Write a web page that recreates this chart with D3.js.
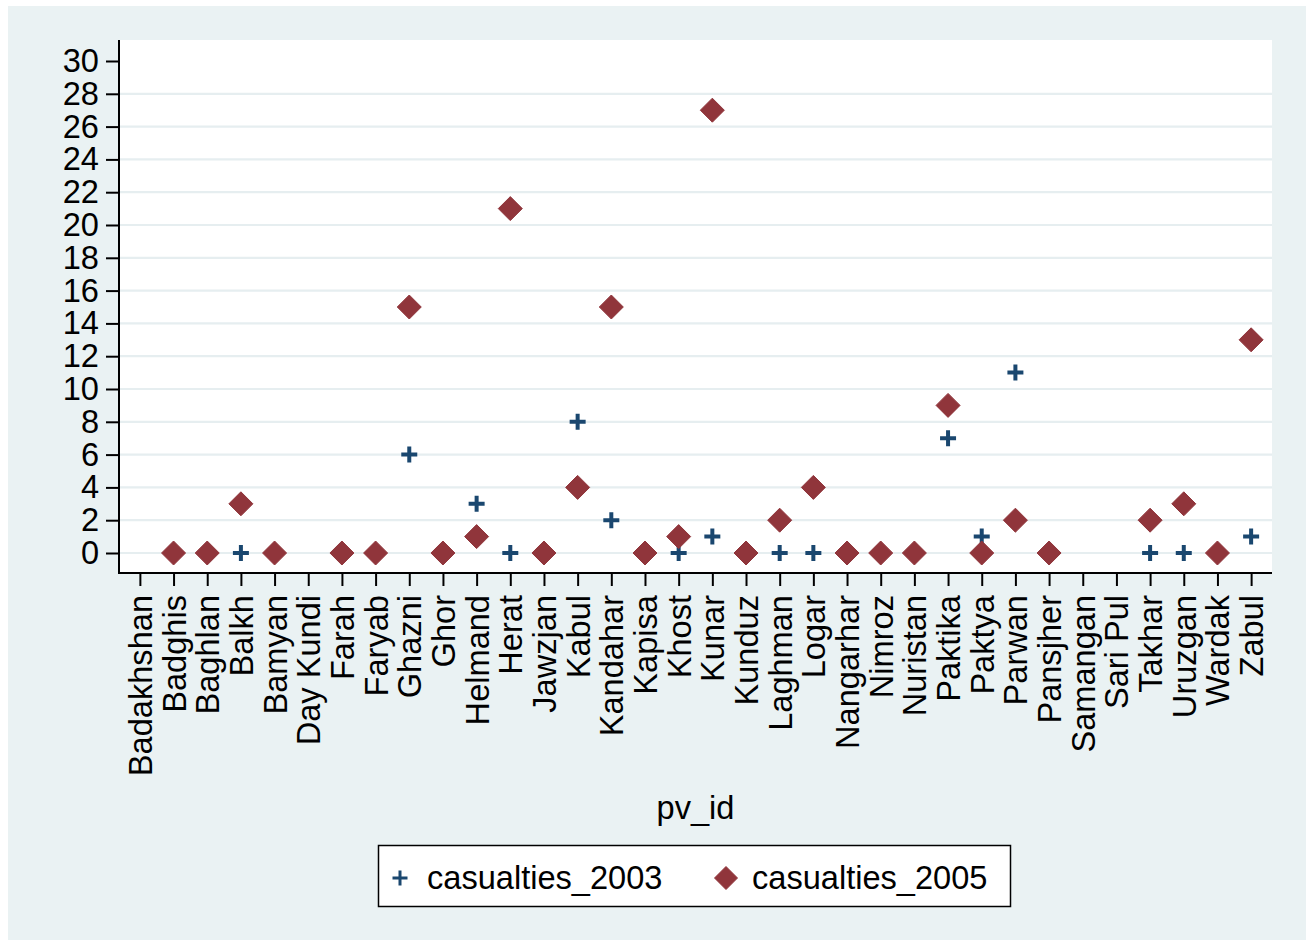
<!DOCTYPE html>
<html><head><meta charset="utf-8">
<script src="https://cdn.jsdelivr.net/npm/d3@7"></script>
<style>html,body{margin:0;padding:0;background:#fff;}svg{display:block;}text{font-family:"Liberation Sans",Arial,sans-serif;}</style>
</head><body>
<svg id="chart" width="1311" height="942"></svg>
<script>
const provinces = ["Badakhshan","Badghis","Baghlan","Balkh","Bamyan","Day Kundi","Farah","Faryab","Ghazni","Ghor","Helmand","Herat","Jawzjan","Kabul","Kandahar","Kapisa","Khost","Kunar","Kunduz","Laghman","Logar","Nangarhar","Nimroz","Nuristan","Paktika","Paktya","Parwan","Pansjher","Samangan","Sari Pul","Takhar","Uruzgan","Wardak","Zabul"];
const casualties2003 = [null,0,0,0,0,null,0,0,6,0,3,0,0,8,2,0,0,1,0,0,0,0,0,0,7,1,11,0,null,null,0,0,0,1];
const casualties2005 = [null,0,0,3,0,null,0,0,15,0,1,21,0,4,15,0,1,27,0,2,4,0,0,0,9,0,2,0,null,null,2,3,0,13];
const yTicks = [0,2,4,6,8,10,12,14,16,18,20,22,24,26,28,30];
const seriesNames = ["casualties_2003","casualties_2005"];

const bg = "#eaf2f3", blue = "#1a476f", red = "#90353b", ink = "#000";
const FS = 32.6;
const svg = d3.select("#chart");
svg.append("rect").attr("x",8).attr("y",6).attr("width",1298).attr("height",934).attr("fill",bg);

const L = 119, R = 1272, T = 40, B = 573;
svg.append("rect").attr("x",L).attr("y",T).attr("width",R-L).attr("height",B-T).attr("fill","#fff");

const x = d3.scalePoint().domain(provinces).range([L,R]).padding(0.62);
const y = d3.scaleLinear().domain([0,30]).range([553,61]);

// gridlines
svg.append("g").selectAll("line").data(yTicks.filter(d=>d<30)).join("line")
  .attr("x1",L).attr("x2",R).attr("y1",d=>y(d)).attr("y2",d=>y(d))
  .attr("stroke","#e6eef0").attr("stroke-width",2.2);

// y axis
const yAxis = svg.append("g").attr("transform",`translate(${L},0)`)
  .call(d3.axisLeft(y).tickValues(yTicks).tickSize(13).tickPadding(7));
yAxis.select(".domain").remove();
yAxis.selectAll(".tick line").attr("stroke",ink).attr("stroke-width",2);
yAxis.selectAll(".tick text").attr("font-size",FS).attr("fill",ink).attr("font-family","Liberation Sans, Arial, sans-serif");
svg.append("line").attr("x1",L).attr("x2",L).attr("y1",T).attr("y2",B+1).attr("stroke",ink).attr("stroke-width",2);

// x axis
const xAxis = svg.append("g").attr("transform",`translate(0,${B})`)
  .call(d3.axisBottom(x).tickSize(13).tickPadding(8));
xAxis.select(".domain").remove();
xAxis.selectAll(".tick line").attr("stroke",ink).attr("stroke-width",2);
xAxis.selectAll(".tick text").attr("font-size",FS).attr("fill",ink)
  .attr("font-family","Liberation Sans, Arial, sans-serif")
  .attr("text-anchor","end").attr("dy",null)
  .attr("transform","rotate(-90)").attr("x",-22).attr("y",0).attr("dominant-baseline","central");
svg.append("line").attr("x1",L-1).attr("x2",R).attr("y1",B).attr("y2",B).attr("stroke",ink).attr("stroke-width",2);

// x title
svg.append("text").attr("x",(L+R)/2).attr("y",819).attr("text-anchor","middle").attr("font-size",FS).text("pv_id");

const diamond = (cx,cy,r)=>`M${cx},${cy-r}L${cx+r},${cy}L${cx},${cy+r}L${cx-r},${cy}Z`;
const plus = (cx,cy,r)=>`M${cx-r},${cy}H${cx+r}M${cx},${cy-r}V${cy+r}`;

// 2003 plus (drawn first)
svg.append("g").selectAll("path").data(provinces.map((p,i)=>({p,v:casualties2003[i]})).filter(d=>d.v!=null)).join("path")
  .attr("d",d=>plus(x(d.p),y(d.v),8)).attr("fill","none").attr("stroke",blue).attr("stroke-width",4);
// 2005 diamonds (on top)
svg.append("g").selectAll("path").data(provinces.map((p,i)=>({p,v:casualties2005[i]})).filter(d=>d.v!=null)).join("path")
  .attr("d",d=>diamond(x(d.p),y(d.v),12)).attr("fill",red).attr("stroke",red).attr("stroke-width",1).attr("stroke-linejoin","round");

// legend
const lg = svg.append("g");
lg.append("rect").attr("x",378.5).attr("y",845.5).attr("width",632).attr("height",61).attr("fill","#fff").attr("stroke",ink).attr("stroke-width",1.5);
lg.append("path").attr("d",plus(400,878,7.5)).attr("stroke",blue).attr("stroke-width",3).attr("fill","none");
lg.append("text").attr("x",427).attr("y",889).attr("font-size",FS).text(seriesNames[0]);
lg.append("path").attr("d",diamond(726,878,11.5)).attr("fill",red).attr("stroke",red).attr("stroke-width",1).attr("stroke-linejoin","round");
lg.append("text").attr("x",752).attr("y",889).attr("font-size",FS).text(seriesNames[1]);
</script>
</body></html>
